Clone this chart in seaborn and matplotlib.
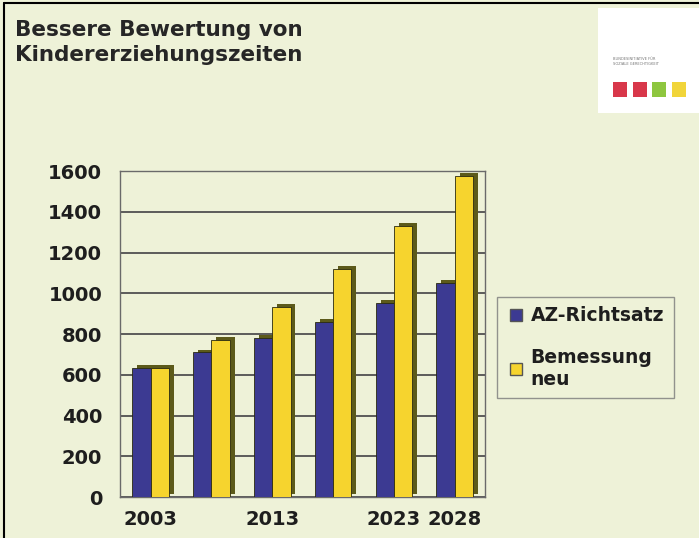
import matplotlib
matplotlib.use("Agg")
import matplotlib.pyplot as plt
import matplotlib.patheffects as pe
from matplotlib.patches import Rectangle
from matplotlib.lines import Line2D
import seaborn as sns
import pandas as pd
import numpy as np

# ---- data ----
years = ["2003", "2008", "2013", "2018", "2023", "2028"]
tick_labels = ["2003", "", "2013", "", "2023", "2028"]
az_richtsatz = [635, 710, 780, 860, 955, 1050]
bemessung_neu = [635, 770, 935, 1120, 1330, 1575]
series_names = ["AZ-Richtsatz", "Bemessung\nneu"]
y_ticks = [0, 200, 400, 600, 800, 1000, 1200, 1400, 1600]

BG = "#eef2d8"
BLUE = "#3c3a92"
YELLOW = "#f6d42e"
TEXT = "#1e1e1e"

df = pd.DataFrame({
    "year": years * 2,
    "value": az_richtsatz + bemessung_neu,
    "series": [series_names[0]] * len(years) + [series_names[1]] * len(years),
})

sns.set_style("white")
plt.rcParams["font.family"] = ["DejaVu Sans"]

fig = plt.figure(figsize=(6.99, 5.38), dpi=100, facecolor=BG)
ax = fig.add_axes([0.172, 0.076, 0.522, 0.606])
ax.set_facecolor(BG)

sns.barplot(data=df, x="year", y="value", hue="series", order=years,
            hue_order=series_names, palette=[BLUE, YELLOW], saturation=1,
            width=0.6, gap=0.0, edgecolor="#2a2a10", linewidth=0.6,
            legend=False, ax=ax, zorder=3)

shadow = [pe.SimplePatchShadow(offset=(3.5, 2.0), shadow_rgbFace="#5c5a1a", alpha=1.0),
          pe.Normal()]
for p in ax.patches:
    p.set_path_effects(shadow)

ax.set_xlim(-0.5, len(years) - 0.5)
ax.set_ylim(0, 1600)
ax.set_yticks(y_ticks)
ax.set_yticklabels([str(v) for v in y_ticks], fontsize=14, fontweight="bold", color=TEXT)
ax.set_xticks(range(len(years)))
ax.set_xticklabels(tick_labels, fontsize=14, fontweight="bold", color=TEXT)
ax.set_xticks(np.arange(-0.5, len(years) - 0.4, 1.0), minor=True)
ax.tick_params(axis="x", which="major", length=0, pad=9)
ax.tick_params(axis="x", which="minor", length=5, width=1, color="#555555", direction="out")
ax.tick_params(axis="y", length=6, width=1, color="#555555", direction="out", pad=7)
ax.set_xlabel("")
ax.set_ylabel("")
ax.grid(axis="y", color="#505050", linewidth=1.3, zorder=0)
ax.set_axisbelow(True)
for s in ax.spines.values():
    s.set_color("#6a6a6a")
    s.set_linewidth(1.0)

# title
fig.text(0.022, 0.962, "Bessere Bewertung von\nKindererziehungszeiten", ha="left", va="top",
         fontsize=15.5, fontweight="bold", color="#262626", linespacing=1.3)

# legend
handles = [Line2D([], [], marker="s", linestyle="none", markersize=8,
                  markerfacecolor=c, markeredgecolor="#555555")
           for c in (BLUE, YELLOW)]
leg = fig.legend(handles, series_names, loc="upper left", bbox_to_anchor=(0.711, 0.448),
                 frameon=True, fancybox=False, edgecolor="#7a7a7a", facecolor=BG,
                 prop={"weight": "bold", "size": 13.5}, labelspacing=1.2,
                 handletextpad=0.3, handlelength=1.0, borderpad=0.5, borderaxespad=0)
leg.get_frame().set_linewidth(1.0)
for t in leg.get_texts():
    t.set_color(TEXT)

# logo box (decoration)
fig.patches.append(Rectangle((0.855, 0.79), 0.145, 0.195, transform=fig.transFigure,
                             facecolor="white", edgecolor="none", zorder=1))
for i, c in enumerate(["#d8374a", "#d8374a", "#8ec63f", "#f1d53a"]):
    fig.patches.append(Rectangle((0.877 + i * 0.028, 0.82), 0.02, 0.028,
                                 transform=fig.transFigure, facecolor=c,
                                 edgecolor="none", zorder=2))
fig.text(0.877, 0.885, "BUNDESINITIATIVE FÜR\nSOZIALE GERECHTIGKEIT", fontsize=2.6,
         color="#777777", ha="left", va="center", linespacing=1.4)

# frame lines at left and top
fig.add_artist(Line2D([0.006, 0.006], [0.0, 0.994], transform=fig.transFigure,
                      color="black", linewidth=1.5))
fig.add_artist(Line2D([0.006, 1.0], [0.994, 0.994], transform=fig.transFigure,
                      color="black", linewidth=1.5))

fig.savefig("out.png", dpi=100, facecolor=BG)
